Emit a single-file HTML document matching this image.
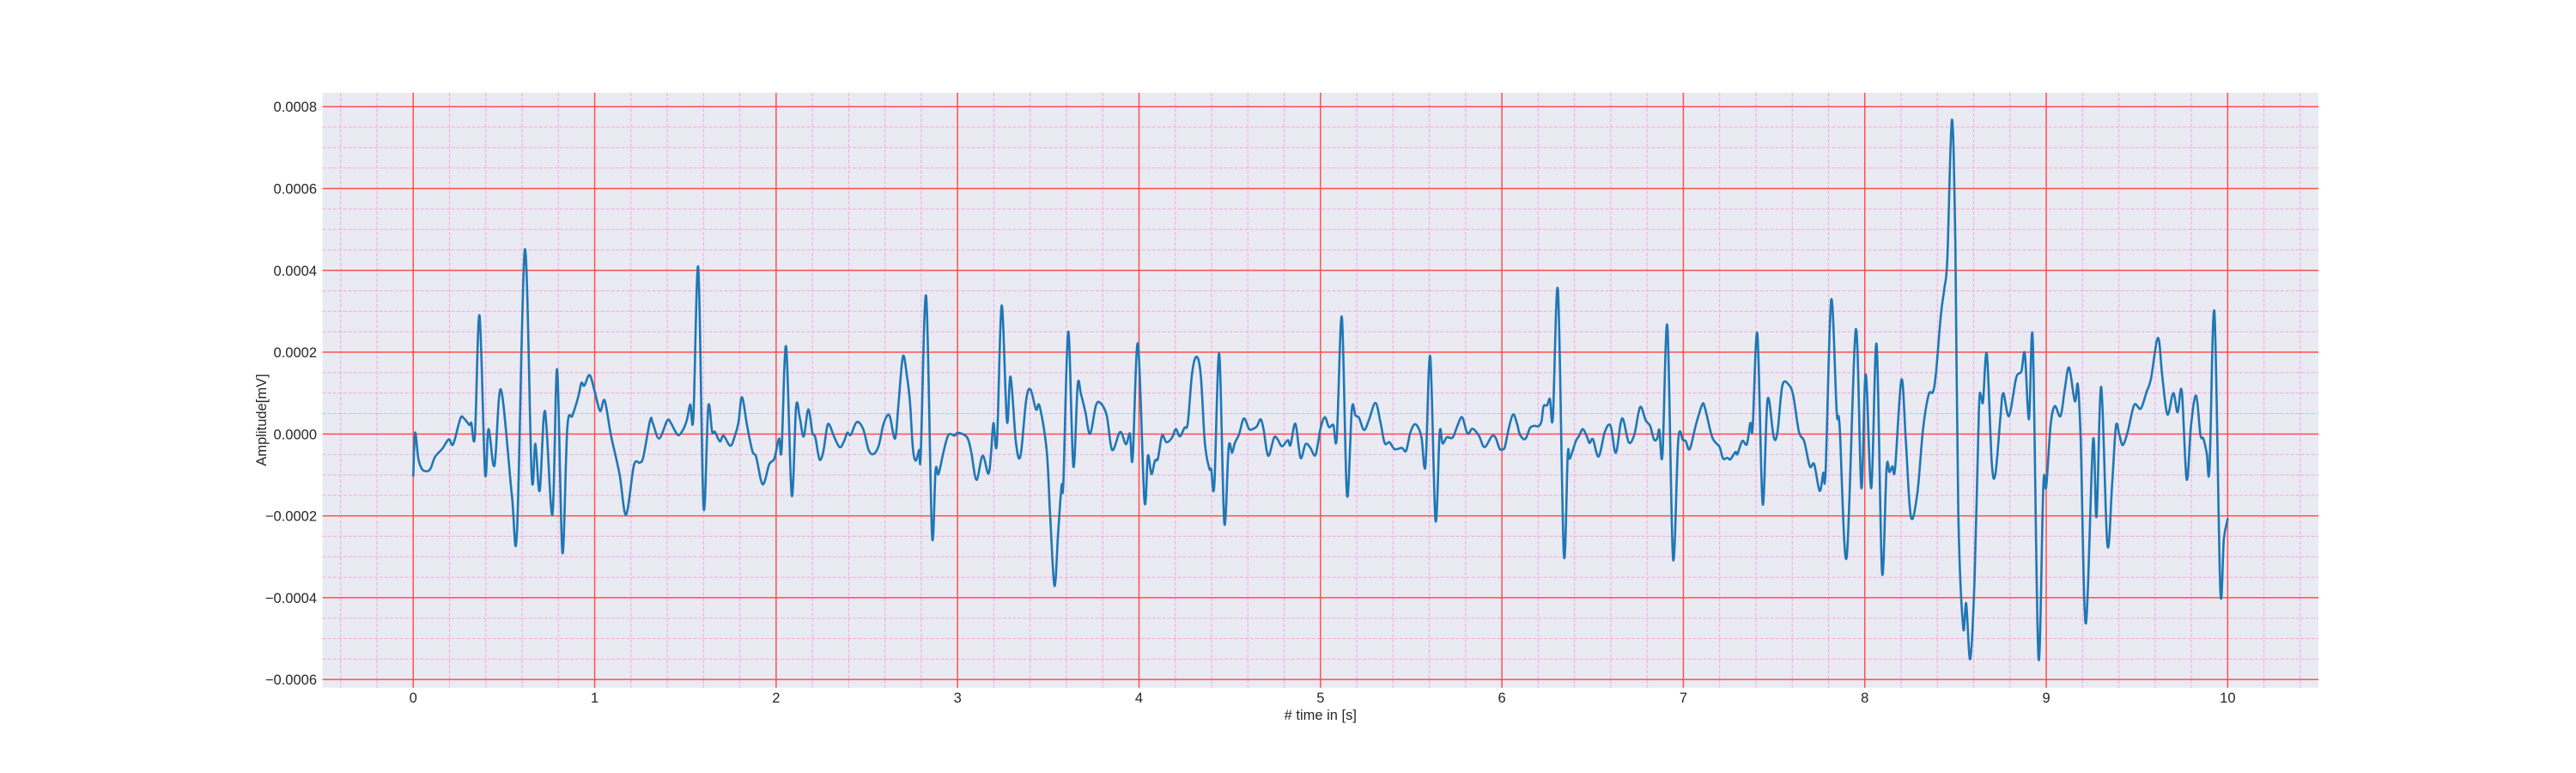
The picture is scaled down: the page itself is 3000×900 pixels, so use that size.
<!DOCTYPE html>
<html><head><meta charset="utf-8"><style>
html,body{margin:0;padding:0;background:#fff;}
svg{display:block;font-family:"Liberation Sans",sans-serif;}
</style></head><body>
<svg id="chart" width="3000" height="900" viewBox="0 0 3000 900" xmlns="http://www.w3.org/2000/svg">
<rect x="375.6" y="108" width="2324.4" height="692.7" fill="#eaeaf2"/>
<g id="grid-minor"></g>
<g id="grid-major"></g>
<g id="series"></g>
<g id="yticks"></g>
<g id="xticks"></g>
<text x="1537.8" y="838" text-anchor="middle" font-size="16.5" fill="#262626"># time in [s]</text>
<text transform="translate(310,489) rotate(-90)" text-anchor="middle" font-size="16.5" fill="#262626">Amplitude[mV]</text>
</svg>
<script>
const times = [0,0.01,0.028,0.049,0.076,0.096,0.12,0.16,0.196,0.22,0.26,0.28,0.31,0.32,0.34,0.365,0.396,0.415,0.448,0.483,0.543,0.572,0.615,0.653,0.673,0.697,0.726,0.767,0.793,0.822,0.849,0.877,0.909,0.927,0.943,0.972,1.0,1.03,1.055,1.09,1.137,1.173,1.216,1.248,1.268,1.306,1.32,1.355,1.4,1.42,1.457,1.484,1.508,1.527,1.544,1.571,1.6,1.626,1.647,1.663,1.69,1.71,1.748,1.773,1.792,1.812,1.84,1.87,1.89,1.926,1.962,1.99,2.016,2.03,2.055,2.086,2.11,2.13,2.152,2.177,2.2,2.216,2.239,2.26,2.282,2.298,2.317,2.35,2.374,2.392,2.411,2.444,2.479,2.51,2.537,2.565,2.589,2.612,2.628,2.656,2.675,2.699,2.722,2.738,2.754,2.77,2.788,2.797,2.827,2.859,2.879,2.895,2.923,2.95,2.984,3.002,3.052,3.075,3.104,3.138,3.17,3.185,3.198,3.217,3.243,3.272,3.292,3.322,3.347,3.378,3.402,3.432,3.452,3.491,3.51,3.534,3.554,3.573,3.583,3.61,3.638,3.662,3.68,3.704,3.73,3.762,3.787,3.822,3.852,3.896,3.928,3.95,3.965,3.994,4.03,4.049,4.068,4.088,4.104,4.127,4.151,4.182,4.203,4.225,4.25,4.269,4.292,4.316,4.34,4.363,4.387,4.398,4.415,4.442,4.47,4.494,4.513,4.528,4.552,4.578,4.607,4.63,4.65,4.67,4.686,4.712,4.744,4.764,4.788,4.82,4.835,4.862,4.89,4.917,4.942,4.969,4.984,5.0,5.024,5.047,5.071,5.09,5.118,5.146,5.173,5.193,5.212,5.24,5.267,5.303,5.33,5.354,5.38,5.409,5.448,5.472,5.495,5.519,5.542,5.558,5.579,5.605,5.634,5.657,5.673,5.697,5.728,5.755,5.781,5.81,5.838,5.873,5.904,5.943,5.964,5.987,6.0,6.016,6.041,6.063,6.084,6.099,6.123,6.139,6.155,6.178,6.202,6.218,6.23,6.249,6.265,6.281,6.309,6.341,6.363,6.375,6.407,6.426,6.446,6.47,6.483,6.502,6.533,6.568,6.599,6.628,6.662,6.699,6.73,6.762,6.793,6.817,6.838,6.856,6.868,6.885,6.912,6.943,6.972,6.998,7.014,7.035,7.069,7.104,7.12,7.156,7.18,7.2,7.219,7.243,7.259,7.287,7.298,7.325,7.35,7.369,7.382,7.408,7.437,7.464,7.498,7.519,7.546,7.582,7.606,7.637,7.666,7.697,7.721,7.751,7.771,7.784,7.815,7.845,7.861,7.9,7.95,7.981,8.005,8.036,8.065,8.095,8.12,8.136,8.152,8.167,8.202,8.226,8.254,8.289,8.321,8.352,8.376,8.392,8.42,8.439,8.455,8.48,8.499,8.515,8.542,8.559,8.581,8.605,8.629,8.641,8.652,8.673,8.7,8.72,8.747,8.763,8.795,8.834,8.863,8.882,8.905,8.926,8.957,8.984,9.0,9.024,9.047,9.079,9.103,9.126,9.158,9.174,9.19,9.218,9.258,9.277,9.303,9.337,9.363,9.384,9.403,9.422,9.45,9.485,9.521,9.553,9.577,9.616,9.64,9.668,9.7,9.724,9.747,9.774,9.798,9.826,9.85,9.866,9.885,9.9,9.927,9.959,9.979,10.0];
const amps = [-1.02,0.03,-0.6,-0.86,-0.91,-0.84,-0.56,-0.36,-0.13,-0.25,0.38,0.38,0.22,0.27,-0.04,2.9,-0.95,0.12,-0.77,1.09,-1.47,-2.38,4.51,-1.02,-0.24,-1.39,0.56,-1.97,1.58,-2.9,0.15,0.45,0.9,1.25,1.18,1.44,1.04,0.56,0.82,-0.04,-0.98,-1.97,-0.77,-0.7,-0.56,0.34,0.27,-0.11,0.33,0.27,-0.02,0.08,0.34,0.72,0.41,4.07,-1.78,0.66,0.06,0.05,-0.18,-0.04,-0.29,-0.04,0.27,0.9,0.2,-0.43,-0.56,-1.23,-0.74,-0.6,-0.11,-0.39,2.14,-1.5,0.66,0.41,-0.06,0.6,0.03,-0.08,-0.62,-0.43,0.2,0.19,-0.04,-0.32,-0.18,0.03,-0.02,0.29,0.13,-0.39,-0.49,-0.29,0.2,0.45,0.41,-0.11,0.76,1.9,1.39,0.76,-0.36,-0.65,-0.39,-0.49,3.37,-2.45,-0.88,-0.98,-0.43,-0.02,-0.04,0.03,-0.08,-0.43,-1.12,-0.53,-0.97,-0.43,0.27,-0.22,3.14,0.31,1.4,-0.22,-0.53,0.83,1.09,0.6,0.68,-0.39,-1.96,-3.71,-2.45,-1.26,-1.19,2.5,-0.79,1.2,0.97,0.55,0,0.69,0.76,0.45,-0.39,0.05,-0.25,0.01,-0.6,2.21,-1.63,-0.53,-0.98,-0.65,-0.6,-0.04,-0.2,-0.09,0.12,-0.06,0.15,0.27,1.46,1.89,1.46,-0.22,-0.84,-0.86,-1.25,1.97,-2.17,-0.32,-0.46,-0.22,0,0.38,0.12,0.13,0.19,0.36,0.13,-0.53,-0.09,-0.13,-0.3,-0.15,-0.27,0.25,-0.58,-0.25,-0.32,-0.53,-0.29,0.13,0.41,0.17,0.22,-0.09,2.86,-1.49,0.61,0.45,0.4,0.1,0.34,0.76,0.31,-0.22,-0.2,-0.37,-0.34,-0.41,0.03,0.24,0.13,-0.11,-0.77,1.9,-2.11,0.03,-0.23,-0.08,-0.09,0.2,0.41,0.01,0.13,-0.04,-0.32,-0.06,-0.08,-0.36,-0.37,-0.32,0.2,0.48,0.24,-0.01,-0.13,-0.04,0.15,0.2,0.19,0.31,0.68,0.7,0.86,0.41,3.51,-2.93,-0.51,-0.6,-0.18,-0.04,0.12,-0.08,-0.22,-0.13,-0.55,0.06,0.2,-0.46,0.38,-0.2,-0.01,0.66,0.33,0.2,-0.13,-0.11,0.1,-0.51,2.64,-3.04,-0.15,-0.15,-0.18,-0.37,0.22,0.72,0.62,-0.04,-0.22,-0.32,-0.6,-0.58,-0.62,-0.44,-0.49,-0.17,-0.25,0.27,0.15,2.45,-1.71,0.84,-0.08,0.06,1.19,1.2,0.93,0.06,-0.18,-0.79,-0.74,-1.39,-0.95,-0.91,3.28,0.55,0.2,-3.02,2.55,-1.32,1.46,-1.32,2.19,-3.38,-0.84,-0.93,-0.79,-0.84,1.33,-0.15,-2.02,-1.47,0.12,0.96,1.03,1.48,2.94,3.57,4.3,7.68,4.66,-1.88,-4.72,-4.14,-5.5,-3.52,0.57,0.92,0.8,1.95,-0.7,-0.97,0.39,1.0,0.44,1.37,1.53,1.96,0.36,2.28,-5.47,-1.25,-1.29,0.21,0.68,0.44,1.12,1.62,0.8,1.21,-0.15,-4.63,-0.15,-2.02,1.15,-2.7,-1.25,0.19,-0.02,-0.27,0.07,0.71,0.62,1.03,1.35,2.35,1.39,0.48,1.0,0.53,1.05,-1.11,0.21,0.94,-0.02,-0.11,-0.47,-0.84,2.98,-3.77,-2.56,-2.08];
const xTicks = [0,1,2,3,4,5,6,7,8,9,10];
const yTicks = [-0.0006,-0.0004,-0.0002,0,0.0002,0.0004,0.0006,0.0008];
const yTickLabels = ["\u22120.0006","\u22120.0004","\u22120.0002","0.0000","0.0002","0.0004","0.0006","0.0008"];

const NS = "http://www.w3.org/2000/svg";
const X0 = 375.6, X1 = 2700, Y0 = 108, Y1 = 800.7;
const xMin = -0.5, xMax = 10.5;
const yMin = -0.00062, yMax = 0.000834;
function xs(t){ return X0 + (t - xMin) / (xMax - xMin) * (X1 - X0); }
function ys(v){ return Y1 - (v - yMin) / (yMax - yMin) * (Y1 - Y0); }
function mk(tag, attrs, parent){
  const e = document.createElementNS(NS, tag);
  for (const k in attrs) e.setAttribute(k, attrs[k]);
  parent.appendChild(e);
  return e;
}
const gMin = document.getElementById('grid-minor');
const gMaj = document.getElementById('grid-major');
for (let i = -2; i <= 52; i++) {
  const t = i * 0.2;
  if (t < xMin || t > xMax || i % 5 === 0) continue;
  const l = mk('line', {x1: xs(t), x2: xs(t), y1: Y0, y2: Y1, stroke: '#f4a6e4', 'stroke-width': 1, 'stroke-dasharray': '4,2'}, gMin);
  
  
}
for (let i = -13; i <= 17; i++) {
  const v = i * 0.00005;
  if (v < yMin || v > yMax || i % 4 === 0) continue;
  const l = mk('line', {x1: X0, x2: X1, y1: ys(v), y2: ys(v), stroke: '#f4a6e4', 'stroke-width': 1, 'stroke-dasharray': '4,2'}, gMin);
  
  
}
const gx = document.getElementById('xticks');
xTicks.forEach(t => {
  const l = mk('line', {x1: xs(t), x2: xs(t), y1: Y0, y2: Y1, stroke: '#ff4f4f', 'stroke-width': 1.5}, gMaj);
  
  
  const tx = mk('text', {x: xs(t), y: 818, 'text-anchor': 'middle', 'font-size': 16.5, fill: '#262626'}, gx);
  tx.textContent = String(t);
  
  
});
const gy = document.getElementById('yticks');
yTicks.forEach((v, i) => {
  const l = mk('line', {x1: X0, x2: X1, y1: ys(v), y2: ys(v), stroke: '#ff4f4f', 'stroke-width': 1.5}, gMaj);
  
  
  const tx = mk('text', {x: 369, y: ys(v) + 6, 'text-anchor': 'end', 'font-size': 16.5, fill: '#262626'}, gy);
  tx.textContent = yTickLabels[i];
  
  
});
const P = times.map((t, i) => [xs(t), ys(amps[i] * 1e-4)]);
let d = 'M' + P[0][0].toFixed(1) + ',' + P[0][1].toFixed(1);
for (let i = 0; i < P.length - 1; i++) {
  const p0 = P[Math.max(0, i - 1)], p1 = P[i], p2 = P[i + 1], p3 = P[Math.min(P.length - 1, i + 2)];
  const c1x = p1[0] + (p2[0] - p0[0]) / 6, c1y = p1[1] + (p2[1] - p0[1]) / 6;
  const c2x = p2[0] - (p3[0] - p1[0]) / 6, c2y = p2[1] - (p3[1] - p1[1]) / 6;
  d += ' C' + c1x.toFixed(1) + ',' + c1y.toFixed(1) + ' ' + c2x.toFixed(1) + ',' + c2y.toFixed(1) + ' ' + p2[0].toFixed(1) + ',' + p2[1].toFixed(1);
}
const pl = mk('path', {d: d, fill: 'none', stroke: '#1f77b4', 'stroke-width': 2.6, 'stroke-linejoin': 'round', 'stroke-linecap': 'round'}, document.getElementById('series'));


</script>
</body></html>
